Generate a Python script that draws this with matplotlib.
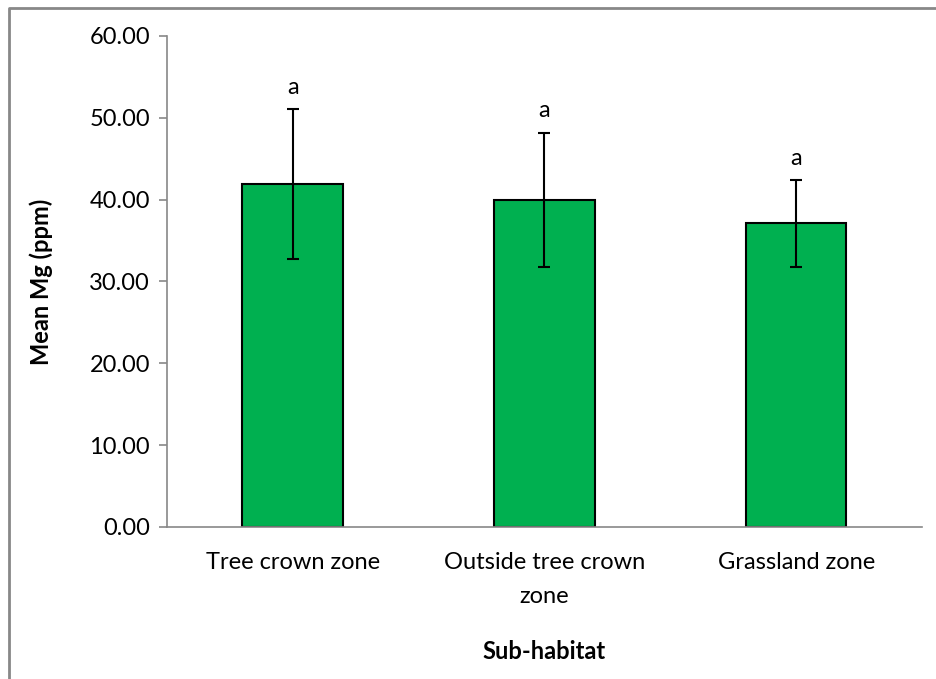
from matplotlib import pyplot as plt
from matplotlib.lines import Line2D

categories = ['Tree crown zone', 'Outside tree crown\nzone', 'Grassland zone']
means = [41.9, 40.0, 37.1]
errors = [9.2, 8.2, 5.3]
letters = ['a', 'a', 'a']

plt.rcParams['font.family'] = ['Lato', 'DejaVu Sans']

fig = plt.figure(figsize=(9.37, 6.79), dpi=100)
ax = fig.add_axes([0.178, 0.224, 0.806, 0.723])

x = range(len(categories))
ax.bar(x, means, width=0.4, color='#00b050', edgecolor='black', linewidth=1.5)
ax.errorbar(x, means, yerr=errors, fmt='none', ecolor='black',
            elinewidth=1.5, capsize=4.5, capthick=1.5)

for i in x:
    ax.annotate(letters[i], (i, means[i] + errors[i]), xytext=(0, 8),
                textcoords='offset points', ha='center', va='bottom', fontsize=17)

ax.set_xlim(-0.5, 2.5)
ax.set_ylim(0, 60)
ax.set_yticks(range(0, 61, 10))
ax.set_yticklabels([f'{v:.2f}' for v in range(0, 61, 10)], fontsize=17)
ax.set_xticks(list(x))
ax.set_xticklabels(categories, fontsize=17, linespacing=1.75)
ax.tick_params(axis='x', length=0, pad=18)
ax.tick_params(axis='y', length=6, color='#888888', width=1.2, pad=6)

for s in ['top', 'right']:
    ax.spines[s].set_visible(False)
for s in ['left', 'bottom']:
    ax.spines[s].set_color('#888888')
    ax.spines[s].set_linewidth(1.2)

ax.set_xlabel('Sub-habitat', fontsize=17, fontweight='bold', labelpad=24)
ax.set_ylabel('Mean Mg (ppm)', fontsize=17, fontweight='bold', labelpad=26)

# outer chart border (cut off at right and bottom)
fig.add_artist(Line2D([9/937, 9/937, 1.0], [0.0, 1 - 8/679, 1 - 8/679],
                      transform=fig.transFigure, color='#888888', linewidth=2))

plt.savefig('out.png', dpi=100)
